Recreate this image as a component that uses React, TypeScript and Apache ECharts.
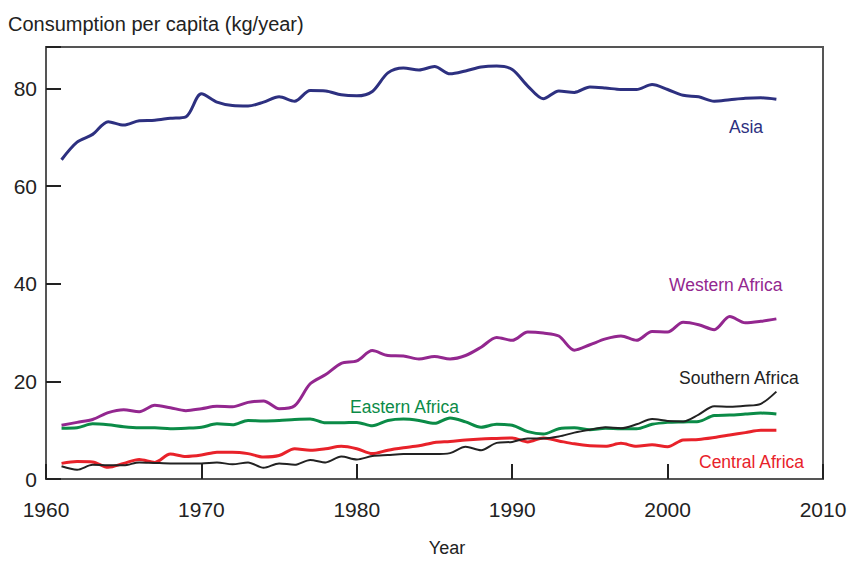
import React, { useEffect, useRef } from "react";
import * as echarts from "echarts";

const years: number[] = [];
for (let y = 1961; y <= 2007; y++) years.push(y);

const asia = [65.4, 69.0, 70.6, 73.2, 72.5, 73.4, 73.5, 73.9, 74.2, 78.9, 77.2, 76.5, 76.4, 77.2, 78.3, 77.4, 79.6, 79.5, 78.7, 78.5, 79.4, 83.2, 84.2, 83.8, 84.5, 83.0, 83.6, 84.4, 84.6, 83.9, 80.5, 77.9, 79.5, 79.2, 80.3, 80.1, 79.8, 79.8, 80.8, 79.8, 78.6, 78.3, 77.4, 77.7, 78.0, 78.1, 77.8];
const westernAfrica = [11.0, 11.6, 12.2, 13.6, 14.2, 13.8, 15.1, 14.6, 14.0, 14.4, 14.9, 14.8, 15.7, 16.0, 14.4, 15.0, 19.5, 21.4, 23.7, 24.2, 26.3, 25.3, 25.2, 24.6, 25.1, 24.6, 25.3, 27.0, 29.0, 28.4, 30.1, 29.9, 29.3, 26.4, 27.5, 28.7, 29.3, 28.4, 30.2, 30.1, 32.1, 31.6, 30.6, 33.3, 32.0, 32.3, 32.8];
const easternAfrica = [10.4, 10.5, 11.3, 11.1, 10.7, 10.5, 10.5, 10.3, 10.4, 10.6, 11.3, 11.1, 12.0, 11.9, 12.0, 12.2, 12.3, 11.5, 11.5, 11.6, 10.9, 12.0, 12.3, 12.0, 11.4, 12.5, 11.7, 10.6, 11.2, 11.0, 9.7, 9.2, 10.3, 10.5, 10.1, 10.4, 10.3, 10.3, 11.2, 11.6, 11.7, 11.8, 13.0, 13.1, 13.3, 13.5, 13.3];
const centralAfrica = [3.2, 3.6, 3.5, 2.4, 3.2, 4.0, 3.4, 5.1, 4.6, 4.9, 5.5, 5.5, 5.2, 4.5, 4.8, 6.2, 5.9, 6.2, 6.7, 6.2, 5.2, 5.9, 6.4, 6.8, 7.5, 7.7, 8.0, 8.2, 8.3, 8.4, 7.6, 8.4, 7.8, 7.2, 6.8, 6.7, 7.3, 6.7, 7.0, 6.6, 8.0, 8.1, 8.5, 9.0, 9.5, 10.0, 10.0];
const southernAfrica = [2.6, 1.9, 2.9, 2.8, 2.8, 3.4, 3.3, 3.2, 3.2, 3.2, 3.4, 3.0, 3.4, 2.3, 3.2, 2.9, 3.9, 3.4, 4.6, 4.0, 4.7, 4.9, 5.1, 5.1, 5.1, 5.3, 6.6, 5.9, 7.4, 7.6, 8.3, 8.3, 8.7, 9.5, 10.1, 10.6, 10.4, 11.2, 12.3, 11.9, 11.8, 13.2, 14.9, 14.8, 15.0, 15.4, 17.9];

const seriesNames = ["Asia", "Western Africa", "Eastern Africa", "Southern Africa", "Central Africa"];
const FONT = "'Liberation Sans', Arial, sans-serif";

export default function App() {
  const ref = useRef<HTMLDivElement>(null);
  useEffect(() => {
    if (!ref.current) return;
    const chart = echarts.init(ref.current, null, { renderer: "svg" });
    const pair = (arr: number[]) => years.map((y, i) => [y, arr[i]]);
    const mk = (name: string, arr: number[], color: string, width: number) => ({
      name,
      type: "line",
      data: pair(arr),
      smooth: 0.3,
      showSymbol: false,
      lineStyle: { color, width },
      itemStyle: { color },
    });
    const label = (text: string, x: number, y: number, color: string) => ({
      type: "text",
      x,
      y,
      style: { text, fill: color, font: `17.5px ${FONT}`, textAlign: "left", textVerticalAlign: "middle" },
    });
    chart.setOption({
      animation: false,
      backgroundColor: "#fff",
      textStyle: { fontFamily: FONT },
      grid: { left: 46, top: 47, right: 29, bottom: 77.5, show: true, borderColor: "#555", borderWidth: 2, backgroundColor: "transparent" },
      xAxis: {
        type: "value",
        min: 1960,
        max: 2010,
        interval: 10,
        name: "Year",
        nameLocation: "middle",
        nameGap: 60,
        nameTextStyle: { fontSize: 18, color: "#222", fontFamily: FONT, padding: [0, 0, 0, 25] },
        axisLine: { show: false },
        axisTick: { show: true, inside: true, length: 15, lineStyle: { color: "#222", width: 2 } },
        axisLabel: { fontSize: 21, color: "#222", margin: 20, fontFamily: FONT, formatter: (v: number) => String(v) },
        splitLine: { show: false },
      },
      yAxis: {
        type: "value",
        min: 0,
        max: 88.5,
        interval: 20,
        axisLine: { show: false },
        axisTick: { show: true, inside: true, length: 15, lineStyle: { color: "#222", width: 2 } },
        axisLabel: {
          fontSize: 21,
          color: "#222",
          margin: 9,
          fontFamily: FONT,
          formatter: (v: number) => (v % 20 === 0 ? String(v) : ""),
        },
        splitLine: { show: false },
      },
      graphic: [
        {
          type: "text",
          x: 8,
          y: 24,
          style: { text: "Consumption per capita (kg/year)", fill: "#222", font: `20px ${FONT}`, textAlign: "left", textVerticalAlign: "middle" },
        },
        label(seriesNames[0], 729, 127, "#2d3080"),
        label(seriesNames[1], 669, 285, "#93278f"),
        label(seriesNames[2], 350, 407, "#0b8b47"),
        label(seriesNames[3], 679, 378, "#222222"),
        label(seriesNames[4], 699, 462, "#e8222a"),
      ],
      series: [
        mk(seriesNames[0], asia, "#2d3080", 3),
        mk(seriesNames[1], westernAfrica, "#93278f", 3),
        mk(seriesNames[2], easternAfrica, "#0b8b47", 3),
        mk(seriesNames[4], centralAfrica, "#e8222a", 3),
        mk(seriesNames[3], southernAfrica, "#222222", 2),
      ],
    });
    return () => chart.dispose();
  }, []);
  return <div ref={ref} style={{ width: 852, height: 562, position: "absolute", left: 0, top: 0 }} />;
}
